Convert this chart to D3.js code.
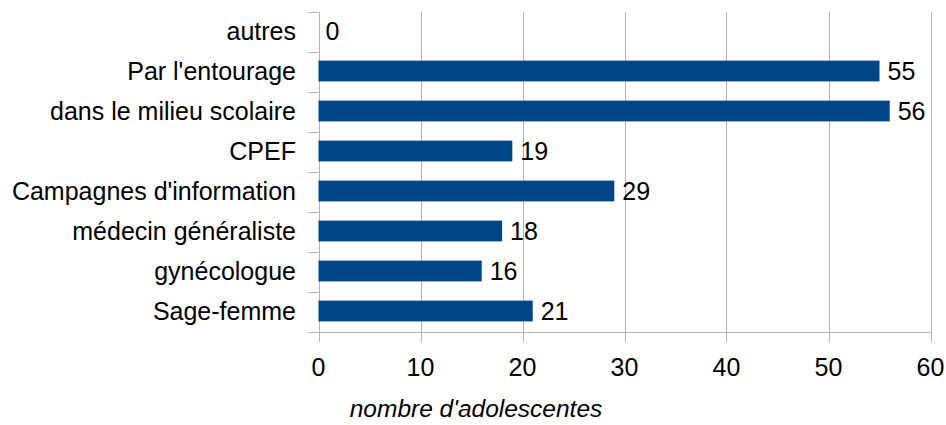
<!DOCTYPE html>
<html><head><meta charset="utf-8">
<script src="https://cdn.jsdelivr.net/npm/d3@7"></script>
<style>body{margin:0;background:#fff}svg{display:block}text{font-family:"Liberation Sans",Arial,sans-serif;fill:#000}</style>
</head><body><svg id="c" width="946" height="425"></svg>
<script>
const categories = ["autres","Par l'entourage","dans le milieu scolaire","CPEF","Campagnes d'information","médecin généraliste","gynécologue","Sage-femme"];
const values = [0,55,56,19,29,18,16,21];
const xTicks = [0,10,20,30,40,50,60];
const axisTitle = "nombre d'adolescentes";

const svg = d3.select("#c");
const L = 318.5, R = 930.5, T = 12, B = 332;
const x = d3.scaleLinear().domain([0,60]).range([L,R]);
const y = d3.scaleBand().domain(categories).range([T,B]).paddingInner(0.48).paddingOuter(0.24);
const grid = "#b3b3b3";

svg.append("g").selectAll("line").data(xTicks).join("line")
  .attr("x1",d=>Math.round(x(d))+0.5).attr("x2",d=>Math.round(x(d))+0.5)
  .attr("y1",T).attr("y2",B+10).attr("stroke",grid).attr("stroke-width",1);
svg.append("line").attr("x1",L).attr("x2",R).attr("y1",B+0.5).attr("y2",B+0.5).attr("stroke",grid);
const bounds = d3.range(categories.length+1).map(i=>T + i*(B-T)/categories.length);
svg.append("g").selectAll("line").data(bounds).join("line")
  .attr("x1",L-10).attr("x2",L).attr("y1",d=>Math.round(d)+0.5).attr("y2",d=>Math.round(d)+0.5)
  .attr("stroke",grid);

svg.append("g").selectAll("rect").data(values).join("rect")
  .attr("x",x(0)).attr("y",(d,i)=>y(categories[i])-1).attr("height",y.bandwidth())
  .attr("width",d=>x(d)-x(0)).attr("fill","#004586");

svg.append("g").selectAll("text").data(values).join("text")
  .attr("x",d=>x(d)+ (d===0?7:8)).attr("y",(d,i)=>y(categories[i])+y.bandwidth()/2-1)
  .attr("dy","0.36em").attr("font-size","25px").text(d=>d);

svg.append("g").selectAll("text").data(categories).join("text")
  .attr("x",296).attr("y",d=>y(d)+y.bandwidth()/2-1).attr("dy","0.36em")
  .attr("text-anchor","end").attr("font-size","25px").text(d=>d);

svg.append("g").selectAll("text").data(xTicks).join("text")
  .attr("x",d=>x(d)).attr("y",376).attr("text-anchor","middle")
  .attr("font-size","25px").text(d=>d);

svg.append("text").attr("x",476).attr("y",417).attr("text-anchor","middle")
  .attr("font-size","24.5px").attr("font-style","italic").text(axisTitle);
</script></body></html>
